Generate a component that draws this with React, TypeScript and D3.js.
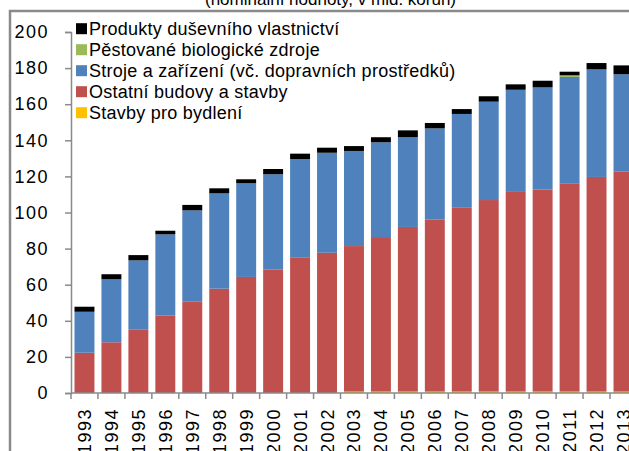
import { useEffect, useRef } from 'react';
import * as d3 from 'd3';

const YEARS = d3.range(1993, 2014).map(String);

// hodnoty v mld. Kč, čteno z grafu (odspodu nahoru)
const BYDLENI   = [0, 0, 0, 0, 0, 0, 0, 0, 0, 0, 0.8, 0.8, 0.8, 0.8, 0.8, 0.8, 0.8, 0.8, 0.8, 0.8, 0.8];
const BUDOVY    = [22.3, 28.1, 35.3, 43.0, 50.8, 57.8, 64.3, 68.5, 75.2, 77.7, 80.6, 85.6, 91.2, 95.4, 102.1, 106.1, 110.6, 112.0, 115.4, 118.9, 121.8];
const STROJE    = [22.7, 34.9, 38.2, 44.9, 50.4, 52.8, 51.9, 52.7, 54.4, 55.4, 52.7, 52.5, 49.7, 50.4, 51.7, 54.5, 56.6, 56.5, 58.9, 59.6, 54.0];
const BIOLOG    = [0, 0, 0, 0, 0, 0, 0, 0, 0, 0, 0, 0, 0, 0, 0, 0, 0, 0, 0.9, 0, 0];
const PRODUKTY  = [2.8, 2.8, 2.9, 2.0, 3.0, 2.8, 2.2, 2.9, 3.0, 2.8, 2.7, 2.8, 3.8, 3.0, 2.7, 3.0, 3.0, 3.7, 2.0, 3.5, 4.9];

const Y_TICKS = [0, 20, 40, 60, 80, 100, 120, 140, 160, 180, 200];

const SERIES = [
  { key: 'bydleni',  label: 'Stavby pro bydlení', color: '#FFC000', values: BYDLENI },
  { key: 'budovy',   label: 'Ostatní budovy a stavby', color: '#C0504D', values: BUDOVY },
  { key: 'stroje',   label: 'Stroje a zařízení (vč. dopravních prostředků)', color: '#4F81BD', values: STROJE },
  { key: 'biolog',   label: 'Pěstované biologické zdroje', color: '#9BBB59', values: BIOLOG },
  { key: 'produkty', label: 'Produkty duševního vlastnictví', color: '#000000', values: PRODUKTY },
];

const TITLE = '(nominální hodnoty, v mld. korun)';

export default function App() {
  const svgRef = useRef<SVGSVGElement>(null);

  useEffect(() => {
    if (!svgRef.current) return;
    const svg = d3.select(svgRef.current);
    svg.selectAll('*').remove();

    const W = 629, H = 451;
    const axisGray = '#8a8a8a';

    const rows = YEARS.map((year, i) => {
      const r: any = { year };
      SERIES.forEach(s => { r[s.key] = s.values[i]; });
      return r;
    });

    // ── Scales ──────────────────────────────────────────────
    const x = d3.scaleBand<string>()
      .domain(YEARS)
      .range([71, 71 + 26.95 * YEARS.length])
      .paddingInner(0.26)
      .paddingOuter(0.13);

    const y = d3.scaleLinear().domain([0, 200]).range([393, 32]);

    // ── Frame + title ───────────────────────────────────────
    svg.append('path')
      .attr('d', `M10,${H} L10,11 L${W},11`)
      .attr('fill', 'none').attr('stroke', axisGray).attr('stroke-width', 2.5);

    svg.append('text')
      .attr('x', 205).attr('y', 5)
      .attr('font-size', 17).attr('fill', '#000')
      .text(TITLE);

    // ── Bars ────────────────────────────────────────────────
    const stack = d3.stack<any>().keys(SERIES.map(s => s.key));
    const layers = stack(rows);

    layers.forEach((layer, li) => {
      svg.append('g')
        .attr('fill', SERIES[li].color)
        .selectAll('rect')
        .data(layer)
        .join('rect')
        .attr('x', d => x(d.data.year)!)
        .attr('width', x.bandwidth())
        .attr('y', d => y(d[1]))
        .attr('height', d => Math.max(0, y(d[0]) - y(d[1])));
    });

    // ── Y axis ──────────────────────────────────────────────
    svg.append('g')
      .attr('transform', 'translate(71,0)')
      .call(d3.axisLeft(y).tickValues(Y_TICKS).tickSize(6).tickPadding(16))
      .call(g => g.select('.domain').attr('stroke', axisGray).attr('stroke-width', 1.5))
      .call(g => g.selectAll('.tick line').attr('stroke', axisGray).attr('stroke-width', 1.5))
      .call(g => g.selectAll('.tick text')
        .attr('fill', '#000').attr('font-size', 18).attr('font-family', 'Arial, Liberation Sans, sans-serif')
        .attr('letter-spacing', 1.5));

    // ── X axis ──────────────────────────────────────────────
    const xLeft = x.range()[0];
    const step = x.step();
    const gx = svg.append('g');
    gx.append('line')
      .attr('x1', xLeft).attr('x2', W).attr('y1', y(0)).attr('y2', y(0))
      .attr('stroke', axisGray).attr('stroke-width', 1.5);

    gx.selectAll('line.tick')
      .data(d3.range(YEARS.length + 1))
      .join('line')
      .attr('class', 'tick')
      .attr('x1', i => xLeft + i * step).attr('x2', i => xLeft + i * step)
      .attr('y1', y(0)).attr('y2', y(0) + 6)
      .attr('stroke', axisGray).attr('stroke-width', 1.5);

    gx.selectAll('text')
      .data(YEARS)
      .join('text')
      .attr('transform', d => `translate(${x(d)! + x.bandwidth() / 2},408) rotate(-90)`)
      .attr('text-anchor', 'end')
      .attr('dy', '0.36em')
      .attr('font-size', 18)
      .attr('letter-spacing', 1.5)
      .attr('fill', '#000')
      .text(d => d);

    // ── Legend ──────────────────────────────────────────────
    const legend = [...SERIES].reverse();
    legend.forEach((s, i) => {
      const cy = 28.7 + i * 21;
      svg.append('rect')
        .attr('x', 76).attr('y', cy - 5.5).attr('width', 11).attr('height', 11)
        .attr('fill', s.color);
      svg.append('text')
        .attr('x', 89).attr('y', cy + 6.5)
        .attr('font-size', 18).attr('letter-spacing', 0.25).attr('fill', '#000')
        .text(s.label);
    });
  }, []);

  return (
    <div style={{ position: 'fixed', left: 0, top: 0, background: '#fff' }}>
      <svg
        ref={svgRef}
        width={629}
        height={451}
        style={{ display: 'block', fontFamily: 'Arial, "Liberation Sans", sans-serif' }}
      />
    </div>
  );
}
